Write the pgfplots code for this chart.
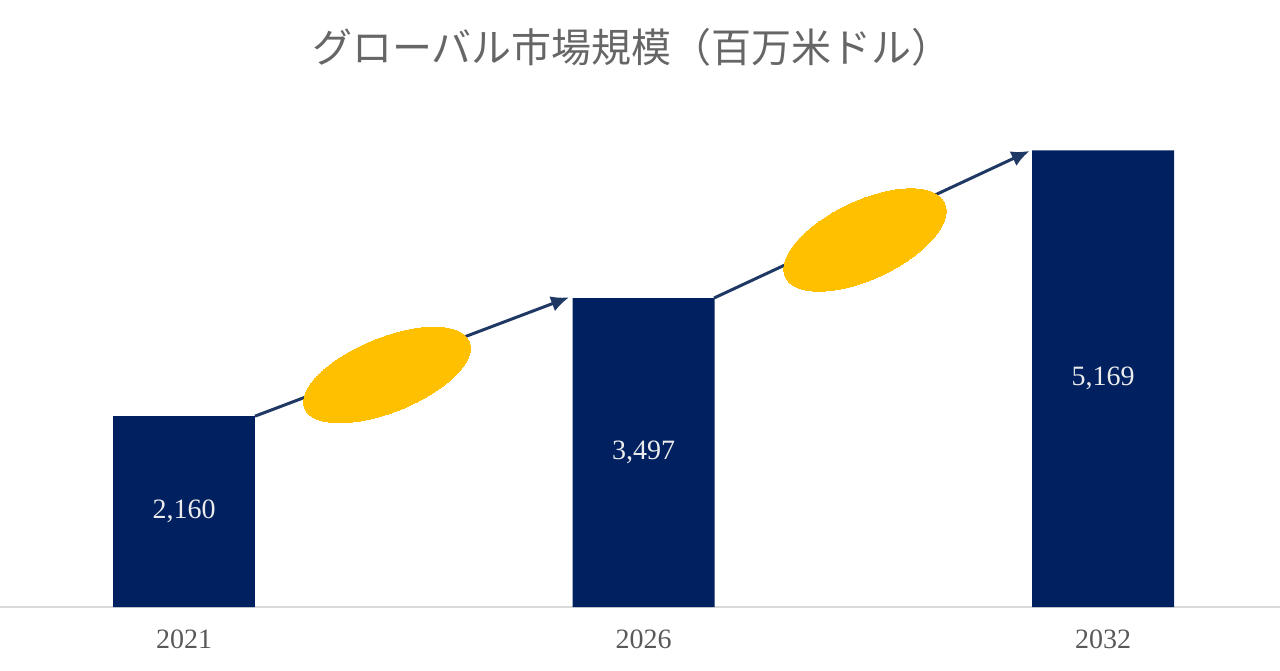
\documentclass[border=0pt]{standalone}
\usepackage{pgfplots}
\pgfplotsset{compat=1.18}
\usepackage{fontspec}
\setmainfont{Liberation Serif}
\newfontfamily\cjk{Noto Sans CJK JP}
\usetikzlibrary{arrows.meta}

\definecolor{barnavy}{HTML}{002060}
\definecolor{arrownavy}{HTML}{1F3864}
\definecolor{gold}{HTML}{FFC000}
\definecolor{titlegray}{HTML}{666666}
\definecolor{labelgray}{HTML}{595959}

\begin{document}
\begin{tikzpicture}
% 1 px of the reference = 0.5bp
\path[use as bounding box] (0,0) rectangle (640bp,335.5bp);

\node[font=\cjk\fontsize{20bp}{24bp}\selectfont, text=titlegray, anchor=center]
  at (316bp,312bp) {グローバル市場規模（百万米ドル）};

\begin{axis}[
    at={(0bp,32bp)}, anchor=south west,
    scale only axis,
    width=640bp, height=253.5bp,
    xmin=-0.40044, xmax=2.3852,
    ymin=0, ymax=5739,
    axis x line=bottom,
    axis y line=none,
    axis line style={-, draw=black!15, line width=1bp},
    xtick={0,1,2},
    xticklabels={2021,2026,2032},
    major tick length=0pt,
    xticklabel style={anchor=base, yshift=-20.5bp, text=labelgray,
        font=\fontsize{14bp}{16bp}\selectfont},
    ytick=\empty,
    clip=false,
    /pgf/number format/assume math mode=true,
    /pgf/number format/1000 sep={,},
]
    % bars
    \addplot[ybar, bar width=0.309, fill=barnavy, draw=none] coordinates {
        (0,2160) (1,3497) (2,5169)
    };
    % value labels at the middle of each bar
    \addplot[draw=none, mark=none, point meta=explicit,
        nodes near coords,
        every node near coord/.append style={anchor=center, text=white!92!black,
            font=\fontsize{14bp}{16bp}\selectfont}] coordinates {
        (0,1080) [2160]
        (1,1748.5) [3497]
        (2,2584.5) [5169]
    };
    % growth arrows
    \addplot[arrownavy, line width=1.5bp, -{Latex[length=9bp,width=8bp]}] coordinates {
        (0.1545,2160) (0.838,3505)
    };
    \addplot[arrownavy, line width=1.5bp, -{Latex[length=9bp,width=8bp]}] coordinates {
        (1.1534,3497) (1.840,5162)
    };
    % yellow ellipses on the arrows
    \addplot[gold, only marks, mark=*, mark size=18.5bp,
        mark options={draw=gold, fill=gold, line width=0pt, rotate=22, xscale=2.4}] coordinates {
        (0.4418,2626)
    };
    \addplot[gold, only marks, mark=*, mark size=19.5bp,
        mark options={draw=gold, fill=gold, line width=0pt, rotate=25, xscale=2.25}] coordinates {
        (1.482,4154)
    };
\end{axis}
\end{tikzpicture}
\end{document}
